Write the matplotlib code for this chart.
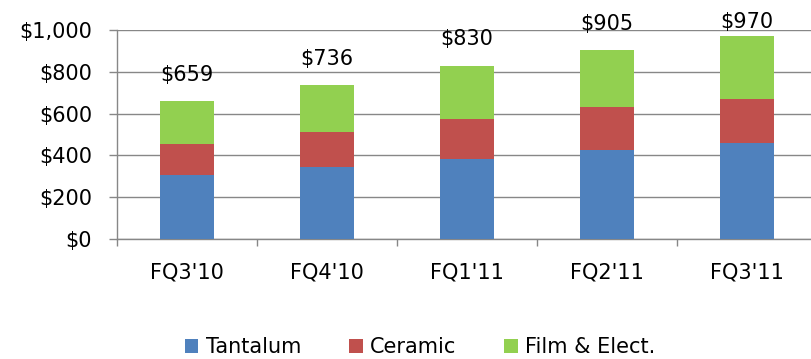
import matplotlib
matplotlib.use('Agg')
import matplotlib.pyplot as plt
import numpy as np
from matplotlib.ticker import FuncFormatter, FixedLocator

plt.rcParams['font.family'] = ['DejaVu Sans']

quarters = ["FQ3'10", "FQ4'10", "FQ1'11", "FQ2'11", "FQ3'11"]
tantalum = [306, 343, 383, 426, 458]
ceramic = [150, 170, 193, 207, 210]
film = [203, 223, 254, 272, 302]
totals = [659, 736, 830, 905, 970]

COLORS = ['#4F81BD', '#C0504D', '#92D050']
GRID = '#878787'
FS = 15

fig = plt.figure(figsize=(8.11, 3.59), dpi=100)
ax = fig.add_axes([117 / 811, 1 - 239 / 359, 700 / 811, 209 / 359])

x = np.arange(len(quarters))
w = 0.39
b1 = ax.bar(x, tantalum, w, color=COLORS[0], label='Tantalum', zorder=3)
b2 = ax.bar(x, ceramic, w, bottom=tantalum, color=COLORS[1], label='Ceramic', zorder=3)
bottom2 = np.array(tantalum) + np.array(ceramic)
b3 = ax.bar(x, film, w, bottom=bottom2, color=COLORS[2], label='Film & Elect.', zorder=3)

# total labels above each stack (last one gets squeezed under the top)
for xi, t in zip(x, totals):
    ax.text(xi, min(t + 77, 992), f'${t:,}', ha='center', va='bottom', fontsize=FS)

ax.set_xlim(-0.5, 4.5)
ax.set_ylim(0, 1000)
ax.set_yticks(np.arange(0, 1001, 200))
ax.yaxis.set_major_formatter(FuncFormatter(lambda v, p: f'${v:,.0f}'))
ax.grid(True, axis='y', color=GRID, linewidth=1.0, zorder=0)

ax.set_xticks(x)
ax.set_xticklabels(quarters)
ax.xaxis.set_minor_locator(FixedLocator(np.arange(-0.5, 5, 1)))
ax.tick_params(axis='x', which='major', length=0, pad=17, labelsize=FS)
ax.tick_params(axis='x', which='minor', length=5, color=GRID, width=1.0)
ax.tick_params(axis='y', length=6, color=GRID, width=1.0, pad=12, labelsize=FS)

for s in ['top', 'right']:
    ax.spines[s].set_visible(False)
for s in ['left', 'bottom']:
    ax.spines[s].set_color(GRID)
    ax.spines[s].set_linewidth(1.0)

fig.legend(handles=[b1, b2, b3], loc='center', bbox_to_anchor=(0.518, 1 - 347 / 359),
           ncol=3, frameon=False, fontsize=FS, handlelength=0.65, handleheight=0.65,
           handletextpad=0.35, columnspacing=2.3)

fig.savefig('out.png', dpi=100)
